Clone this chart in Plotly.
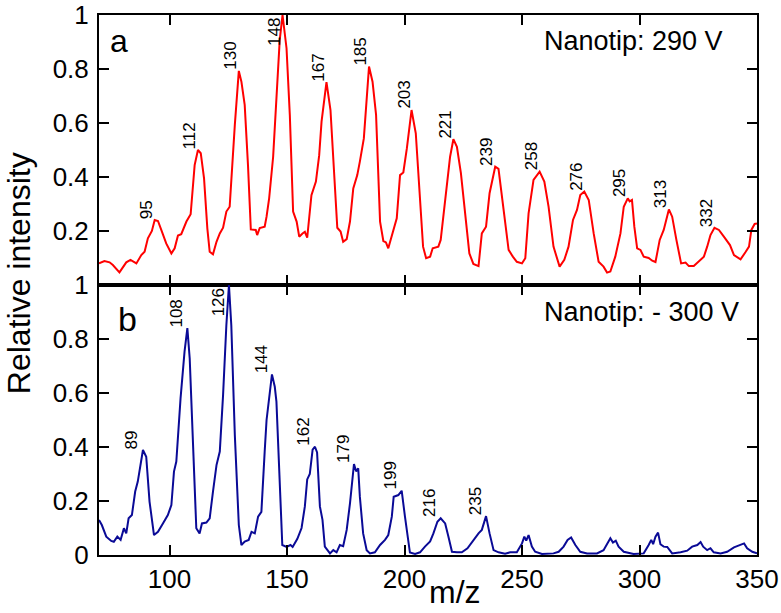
import numpy as np
import plotly.graph_objects as go
from plotly.subplots import make_subplots

# panel a: nanotip +290 V
mz_a = [70.0, 72.3, 74.5, 75.9, 78.7, 81.6, 83.4, 85.9, 88.0, 89.4, 90.8, 92.5, 93.7, 95.1, 96.5,
        98.6, 100.8, 102.2, 103.6, 105.0, 107.2, 109.0, 110.7, 112.1, 113.3, 114.7, 116.1, 117.1,
        118.5, 120.0, 121.4, 122.8, 124.2, 125.6, 127.8, 129.5, 130.6, 132.0, 133.4, 134.6, 136.7,
        137.3, 138.4, 140.5, 141.3, 142.4, 144.1, 145.5, 146.9, 148.1, 149.8, 151.2, 152.6, 154.1,
        155.2, 156.6, 157.6, 158.6, 160.4, 162.3, 163.7, 164.7, 166.8, 168.5, 169.7, 171.4, 172.8,
        173.9, 175.4, 176.8, 178.2, 179.9, 181.0, 182.7, 184.9, 186.4, 187.9, 189.6, 191.0, 192.1,
        193.1, 194.6, 196.7, 198.1, 199.5, 201.0, 203.0, 204.8, 206.3, 207.9, 209.2, 210.9, 212.0,
        214.4, 215.4, 217.3, 219.4, 220.8, 222.3, 224.0, 225.8, 227.6, 229.3, 231.5, 232.9, 234.7,
        236.2, 238.6, 240.0, 242.1, 244.3, 246.1, 247.8, 250.0, 251.4, 252.8, 254.9, 257.5, 259.5,
        261.3, 263.4, 266.0, 268.0, 269.8, 271.7, 273.4, 274.8, 276.5, 278.4, 280.5, 282.6, 284.7,
        286.2, 287.6, 289.7, 291.9, 293.3, 295.0, 295.8, 296.8, 297.8, 299.0, 300.4, 301.8, 303.9,
        305.4, 306.8, 308.6, 310.3, 312.5, 313.9, 315.7, 317.7, 319.6, 321.0, 323.1, 325.2, 327.4,
        328.8, 330.2, 331.9, 333.8, 335.9, 338.5, 340.2, 343.0, 345.2, 346.6, 347.6, 349.0, 350.0]
int_a = [0.080, 0.089, 0.084, 0.074, 0.047, 0.084, 0.093, 0.080, 0.111, 0.123, 0.173, 0.200, 0.241,
         0.237, 0.204, 0.154, 0.117, 0.136, 0.183, 0.188, 0.235, 0.262, 0.444, 0.500, 0.488, 0.395,
         0.210, 0.123, 0.114, 0.160, 0.191, 0.212, 0.272, 0.290, 0.593, 0.793, 0.753, 0.667, 0.444,
         0.206, 0.204, 0.185, 0.211, 0.216, 0.253, 0.321, 0.475, 0.685, 0.907, 1.000, 0.877, 0.630,
         0.272, 0.235, 0.179, 0.191, 0.197, 0.175, 0.333, 0.383, 0.481, 0.605, 0.751, 0.648, 0.481,
         0.212, 0.198, 0.160, 0.170, 0.235, 0.358, 0.407, 0.457, 0.543, 0.809, 0.753, 0.630, 0.235,
         0.163, 0.158, 0.136, 0.185, 0.247, 0.407, 0.417, 0.506, 0.648, 0.562, 0.358, 0.142, 0.099,
         0.105, 0.136, 0.142, 0.167, 0.315, 0.475, 0.540, 0.512, 0.414, 0.253, 0.117, 0.078, 0.070,
         0.191, 0.216, 0.340, 0.438, 0.430, 0.290, 0.130, 0.105, 0.086, 0.080, 0.099, 0.265, 0.389,
         0.420, 0.383, 0.290, 0.142, 0.068, 0.093, 0.142, 0.241, 0.278, 0.333, 0.346, 0.315, 0.191,
         0.086, 0.068, 0.046, 0.050, 0.105, 0.191, 0.290, 0.321, 0.310, 0.315, 0.216, 0.136, 0.130,
         0.105, 0.100, 0.090, 0.085, 0.167, 0.204, 0.280, 0.253, 0.167, 0.080, 0.083, 0.070, 0.070,
         0.086, 0.105, 0.142, 0.185, 0.212, 0.204, 0.179, 0.148, 0.111, 0.095, 0.123, 0.142, 0.204,
         0.226, 0.228]
peaks_a = [95, 112, 130, 148, 167, 185, 203, 221, 239, 258, 276, 295, 313, 332]

# panel b: nanotip -300 V
mz_b = [70.0, 71.2, 73.1, 75.2, 76.3, 77.8, 79.2, 80.6, 81.6, 82.6, 84.0, 85.4, 86.5, 88.7, 90.1,
        91.5, 93.4, 95.1, 97.2, 99.3, 100.8, 101.9, 102.9, 104.7, 106.4, 107.6, 108.6, 110.0, 111.4,
        112.8, 113.8, 115.7, 117.1, 118.5, 120.0, 121.4, 122.8, 124.2, 125.3, 126.3, 127.8, 129.5,
        130.6, 132.0, 133.7, 134.9, 136.3, 137.7, 139.1, 140.5, 141.3, 143.6, 144.8, 145.5, 146.9,
        148.0, 149.8, 151.5, 152.4, 154.4, 156.2, 157.6, 158.6, 159.7, 160.9, 161.9, 162.8, 164.0,
        165.1, 166.1, 168.3, 169.7, 171.1, 172.5, 173.9, 175.4, 176.8, 178.5, 179.4, 180.3, 181.0,
        182.4, 183.9, 185.3, 187.4, 189.6, 191.7, 193.1, 194.6, 195.4, 197.4, 198.8, 200.2, 202.3,
        204.5, 206.6, 208.7, 210.9, 212.3, 214.0, 215.4, 217.3, 218.7, 220.2, 222.3, 224.4, 226.8,
        229.3, 231.5, 232.9, 234.7, 236.2, 237.9, 240.0, 242.8, 245.0, 247.8, 250.0, 251.0, 251.8,
        252.8, 254.2, 255.6, 258.5, 263.4, 265.6, 267.7, 269.4, 270.9, 272.7, 274.8, 277.7, 281.9,
        284.7, 286.5, 287.6, 288.7, 289.9, 291.1, 293.3, 297.5, 301.8, 303.9, 305.0, 305.8, 306.8,
        307.9, 308.9, 310.3, 311.8, 313.9, 317.5, 320.3, 322.4, 324.6, 326.0, 327.1, 328.8, 330.2,
        331.6, 334.5, 337.3, 340.2, 343.0, 344.5, 345.8, 348.0, 350.0]
int_b = [0.130, 0.111, 0.068, 0.052, 0.049, 0.068, 0.056, 0.099, 0.080, 0.136, 0.148, 0.235, 0.272,
         0.389, 0.364, 0.198, 0.074, 0.086, 0.117, 0.148, 0.185, 0.309, 0.346, 0.580, 0.753, 0.840,
         0.728, 0.407, 0.099, 0.080, 0.117, 0.120, 0.136, 0.235, 0.333, 0.383, 0.593, 0.852, 1.000,
         0.850, 0.444, 0.111, 0.037, 0.050, 0.056, 0.086, 0.080, 0.142, 0.160, 0.383, 0.500, 0.669,
         0.623, 0.568, 0.259, 0.037, 0.030, 0.037, 0.030, 0.060, 0.100, 0.180, 0.280, 0.300, 0.390,
         0.401, 0.380, 0.180, 0.130, 0.031, 0.006, 0.018, 0.010, 0.037, 0.033, 0.093, 0.191, 0.337,
         0.310, 0.321, 0.216, 0.080, 0.018, 0.006, 0.010, 0.037, 0.056, 0.074, 0.142, 0.216, 0.222,
         0.238, 0.142, 0.009, 0.004, 0.010, 0.031, 0.050, 0.080, 0.123, 0.136, 0.117, 0.068, 0.012,
         0.010, 0.010, 0.025, 0.056, 0.080, 0.093, 0.144, 0.080, 0.018, 0.010, 0.005, 0.010, 0.010,
         0.043, 0.068, 0.053, 0.074, 0.031, 0.012, 0.004, 0.006, 0.012, 0.031, 0.056, 0.065, 0.037,
         0.012, 0.006, 0.006, 0.018, 0.043, 0.062, 0.046, 0.053, 0.031, 0.012, 0.004, 0.006, 0.037,
         0.056, 0.040, 0.068, 0.083, 0.040, 0.031, 0.030, 0.006, 0.010, 0.016, 0.031, 0.037, 0.048,
         0.031, 0.018, 0.025, 0.010, 0.006, 0.012, 0.028, 0.037, 0.043, 0.025, 0.012, 0.006]
peaks_b = [89, 108, 126, 144, 162, 179, 199, 216, 235]

x_ticks = [100, 150, 200, 250, 300, 350]
y_ticks_a = [0.2, 0.4, 0.6, 0.8, 1]
y_ticks_b = [0, 0.2, 0.4, 0.6, 0.8, 1]

FONT = "Arial, Liberation Sans, sans-serif"
RED = "#ff0000"
BLUE = "#0a0a96"

fig = make_subplots(rows=2, cols=1, shared_xaxes=True, vertical_spacing=0)
fig.add_trace(go.Scatter(x=mz_a, y=int_a, mode="lines", line=dict(color=RED, width=2)), row=1, col=1)
fig.add_trace(go.Scatter(x=mz_b, y=int_b, mode="lines", line=dict(color=BLUE, width=2)), row=2, col=1)


def peak_labels(mz, inten, labels, yref, xref, shift):
    mz = np.array(mz)
    inten = np.array(inten)
    anns = []
    for lab in labels:
        win = np.abs(mz - lab) <= 4
        i = np.argmax(np.where(win, inten, -1))
        anns.append(dict(x=mz[i], y=min(inten[i], 0.88), xref=xref, yref=yref, text=str(lab),
                         textangle=-90, showarrow=False, xanchor="center", yanchor="bottom",
                         xshift=shift, yshift=-1, font=dict(size=17, color="black", family=FONT)))
    return anns


anns = peak_labels(mz_a, int_a, peaks_a, "y", "x", -8) + peak_labels(mz_b, int_b, peaks_b, "y2", "x2", -11)


def label(text, x, y, size, xanchor="left", angle=0):
    return dict(text=text, x=x, y=y, xref="paper", yref="paper", xanchor=xanchor, yanchor="middle",
                showarrow=False, textangle=angle, font=dict(family=FONT, size=size, color="black"))


anns += [
    label("a", 0.0137, 0.952, 32),
    label("b", 0.026, 0.437, 34),
    label("Nanotip: 290 V", 0.673, 0.9526, 27),
    label("Nanotip: - 300 V", 0.673, 0.45, 27),
    label("m/z", 0.541, -0.0685, 32, xanchor="center"),
    label("Relative intensity", -0.1215, 0.522, 32, xanchor="center", angle=-90),
]

axis_style = dict(showline=True, linewidth=2, linecolor="black", mirror="ticks", ticks="inside",
                  ticklen=10, tickwidth=2, tickcolor="black", showgrid=False, zeroline=False,
                  automargin=False, ticklabeloverflow="allow",
                  tickfont=dict(family=FONT, size=26, color="black"))

fig.update_xaxes(range=[70, 350], tickvals=x_ticks, **axis_style)
fig.update_xaxes(showticklabels=False, row=1, col=1)
fig.update_yaxes(range=[0, 1], ticklabelstandoff=3, **axis_style)
fig.update_yaxes(tickvals=y_ticks_a, ticktext=[f"{v:g}" for v in y_ticks_a], row=1, col=1)
fig.update_yaxes(tickvals=y_ticks_b, ticktext=[f"{v:g}" for v in y_ticks_b], row=2, col=1)

fig.update_layout(
    width=781, height=613,
    margin=dict(l=99, r=24, t=15, b=58, autoexpand=False),
    paper_bgcolor="white", plot_bgcolor="white",
    showlegend=False,
    annotations=anns,
    font=dict(family=FONT, color="black"),
)

# drop the page's default body margin so the figure fills the window exactly
fig.write_html("out.html", config={"displayModeBar": False},
               post_script="document.body.style.margin = '0px';")
